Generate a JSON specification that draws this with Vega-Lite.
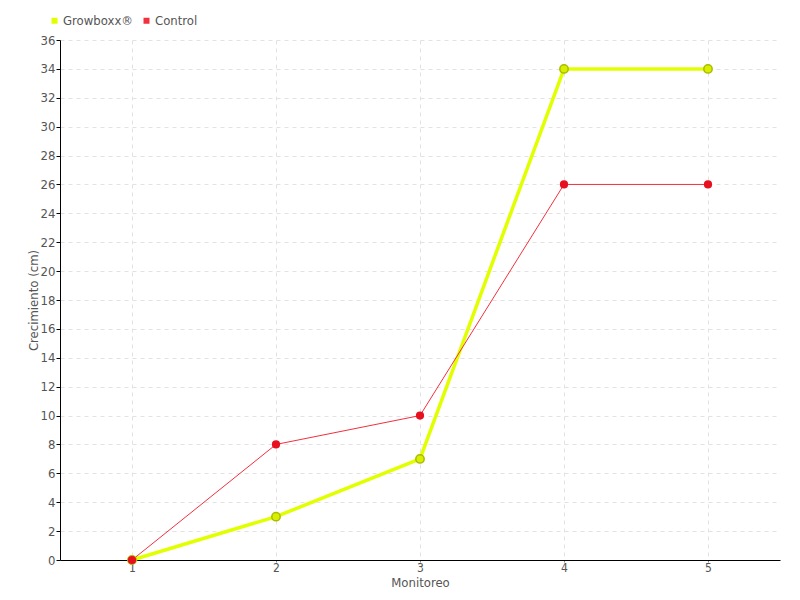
{
  "$schema": "https://vega.github.io/schema/vega-lite/v6.json",
  "width": 720,
  "height": 520,
  "autosize": {"type": "none"},
  "padding": {"left": 60, "top": 40, "right": 20, "bottom": 40},
  "background": "white",
  "config": {
    "font": "DejaVu Sans Condensed, Liberation Sans Narrow, sans-serif",
    "view": {"stroke": null}
  },
  "data": {
    "values": [
      {"monitoreo": 1, "crecimiento": 0, "serie": "Growboxx®"},
      {"monitoreo": 2, "crecimiento": 3, "serie": "Growboxx®"},
      {"monitoreo": 3, "crecimiento": 7, "serie": "Growboxx®"},
      {"monitoreo": 4, "crecimiento": 34, "serie": "Growboxx®"},
      {"monitoreo": 5, "crecimiento": 34, "serie": "Growboxx®"},
      {"monitoreo": 1, "crecimiento": 0, "serie": "Control"},
      {"monitoreo": 2, "crecimiento": 8, "serie": "Control"},
      {"monitoreo": 3, "crecimiento": 10, "serie": "Control"},
      {"monitoreo": 4, "crecimiento": 26, "serie": "Control"},
      {"monitoreo": 5, "crecimiento": 26, "serie": "Control"}
    ]
  },
  "encoding": {
    "x": {
      "field": "monitoreo",
      "type": "quantitative",
      "scale": {"domain": [0.5, 5.5], "nice": false, "zero": false},
      "axis": {
        "title": "Monitoreo",
        "values": [1, 2, 3, 4, 5],
        "format": "d",
        "domainColor": "#000",
        "domainWidth": 1,
        "tickColor": "#888",
        "tickSize": 2,
        "labelPadding": 0,
        "labelFontSize": 12,
        "labelColor": "#555",
        "titleFontSize": 13,
        "titleFontWeight": "normal",
        "titleColor": "#555",
        "titlePadding": 3,
        "grid": true,
        "gridColor": "#e2e2e2",
        "gridDash": [4, 4]
      }
    },
    "y": {
      "field": "crecimiento",
      "type": "quantitative",
      "scale": {"domain": [0, 36], "nice": false},
      "axis": {
        "title": "Crecimiento (cm)",
        "values": [0, 2, 4, 6, 8, 10, 12, 14, 16, 18, 20, 22, 24, 26, 28, 30, 32, 34, 36],
        "domainColor": "#000",
        "domainWidth": 1,
        "tickColor": "#000",
        "tickSize": 4,
        "labelPadding": 1,
        "labelFontSize": 13,
        "labelColor": "#555",
        "titleFontSize": 13,
        "titleFontWeight": "normal",
        "titleColor": "#555",
        "titlePadding": 0,
        "grid": true,
        "gridColor": "#e2e2e2",
        "gridDash": [4, 4]
      }
    },
    "color": {
      "field": "serie",
      "type": "nominal",
      "scale": {"domain": ["Growboxx®", "Control"], "range": ["#e2ff00", "#f2303e"]},
      "legend": {
        "title": null,
        "orient": "none",
        "legendX": -12,
        "legendY": -26,
        "direction": "horizontal",
        "symbolType": "square",
        "symbolSize": 36,
        "symbolStrokeWidth": 0,
        "labelFontSize": 13,
        "labelColor": "#555",
        "labelOffset": 2,
        "columnPadding": 6
      }
    }
  },
  "layer": [
    {
      "transform": [{"filter": "datum.serie === 'Growboxx®'"}],
      "mark": {"type": "line", "strokeWidth": 3.5}
    },
    {
      "transform": [{"filter": "datum.serie === 'Control'"}],
      "mark": {"type": "line", "strokeWidth": 1}
    },
    {
      "transform": [{"filter": "datum.serie === 'Growboxx®'"}],
      "mark": {"type": "point", "filled": true, "opacity": 1, "strokeWidth": 1.5, "fill": "#d8f000", "stroke": "#a9bc00", "size": 70}
    },
    {
      "transform": [{"filter": "datum.serie === 'Control'"}],
      "mark": {"type": "point", "filled": true, "opacity": 1, "strokeWidth": 1.5, "fill": "#e8101e", "stroke": "#e8101e", "size": 45}
    }
  ]
}
